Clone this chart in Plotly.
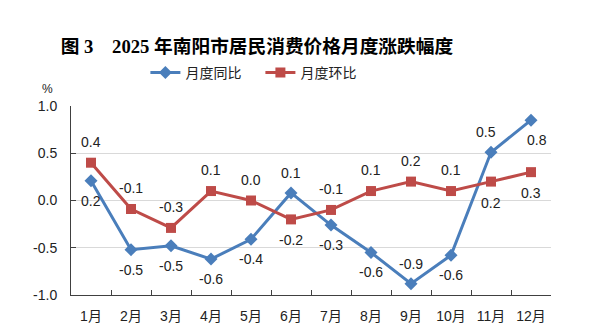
import plotly.graph_objects as go

months = ["1月", "2月", "3月", "4月", "5月", "6月", "7月", "8月", "9月", "10月", "11月", "12月"]
yoy = [0.21, -0.52, -0.48, -0.62, -0.41, 0.08, -0.26, -0.55, -0.88, -0.58, 0.51, 0.85]
mom = [0.40, -0.09, -0.29, 0.10, 0.00, -0.20, -0.10, 0.10, 0.20, 0.10, 0.20, 0.30]
yoy_labels = ["0.2", "-0.5", "-0.5", "-0.6", "-0.4", "0.1", "-0.3", "-0.6", "-0.9", "-0.6", "0.5", "0.8"]
mom_labels = ["0.4", "-0.1", "-0.3", "0.1", "0.0", "-0.2", "-0.1", "0.1", "0.2", "0.1", "0.2", "0.3"]
# label placement: +1 above, -1 below
yoy_pos = [-1, -1, -1, -1, -1, 1, -1, -1, 1, -1, 1, -1]
mom_pos = [1, 1, 1, 1, 1, -1, 1, 1, 1, 1, -1, -1]
yoy_dx = [0, 0, 0, 0, 0, 0, 0, 0, 0, 0, -5, 6]

BLUE = "#4A7EBB"
RED = "#BE4B48"
FONT = "Liberation Sans, Noto Sans CJK SC, sans-serif"

fig = go.Figure()
fig.add_trace(go.Scatter(x=months, y=yoy, name="月度同比", mode="lines+markers",
                         line=dict(color=BLUE, width=3),
                         marker=dict(symbol="diamond", size=10, color=BLUE)))
fig.add_trace(go.Scatter(x=months, y=mom, name="月度环比", mode="lines+markers",
                         line=dict(color=RED, width=3),
                         marker=dict(symbol="square", size=10, color=RED)))

anns = []
for i, (v, t, p, dx) in enumerate(zip(yoy, yoy_labels, yoy_pos, yoy_dx)):
    anns.append(dict(x=i, y=v, text=t, showarrow=False, xshift=dx,
                     yshift=20 * p, font=dict(size=14, color="#222", family=FONT)))
for i, (v, t, p) in enumerate(zip(mom, mom_labels, mom_pos)):
    anns.append(dict(x=i, y=v, text=t, showarrow=False,
                     yshift=21 * p, font=dict(size=14, color="#222", family=FONT)))
anns.append(dict(x=-0.05, y=1.09, xref="paper", yref="paper", text="%", showarrow=False,
                 xanchor="center", yanchor="middle",
                 font=dict(size=12, color="#222", family=FONT)))

fig.update_layout(
    width=596, height=336,
    margin=dict(l=71, r=45, t=106, b=41),
    paper_bgcolor="white", plot_bgcolor="white",
    title=dict(text="<b>图 3　2025 年南阳市居民消费价格月度涨跌幅度</b>",
               x=0.431, xref="container", xanchor="center",
               y=0.862, yref="container", yanchor="middle",
               font=dict(size=18.7, color="black",
                         family="Liberation Serif, Noto Sans CJK SC, serif")),
    legend=dict(orientation="h", x=0.155, xanchor="left", y=1.175, yanchor="middle",
                font=dict(size=14, color="#222", family=FONT),
                itemwidth=30, entrywidth=70, bgcolor="rgba(0,0,0,0)"),
    annotations=anns,
    xaxis=dict(type="category", showgrid=False, showline=True, linecolor="#404040",
               linewidth=1, ticks="inside", ticklen=5, tickcolor="#404040",
               tickson="boundaries", ticklabelstandoff=8,
               tickfont=dict(size=14, color="#222", family=FONT),
               range=[-0.5, 11.5], fixedrange=True),
    yaxis=dict(range=[-1, 1], tickvals=[-1, -0.5, 0, 0.5, 1],
               ticktext=["-1.0", "-0.5", "0.0", "0.5", "1.0"],
               showgrid=True, gridcolor="#D9D9D9", gridwidth=1, zeroline=False,
               showline=True, linecolor="#404040", linewidth=1,
               ticks="inside", ticklen=5, tickcolor="#404040", ticklabelstandoff=10,
               tickfont=dict(size=14, color="#222", family=FONT)),
)

fig.write_html("out.html")
